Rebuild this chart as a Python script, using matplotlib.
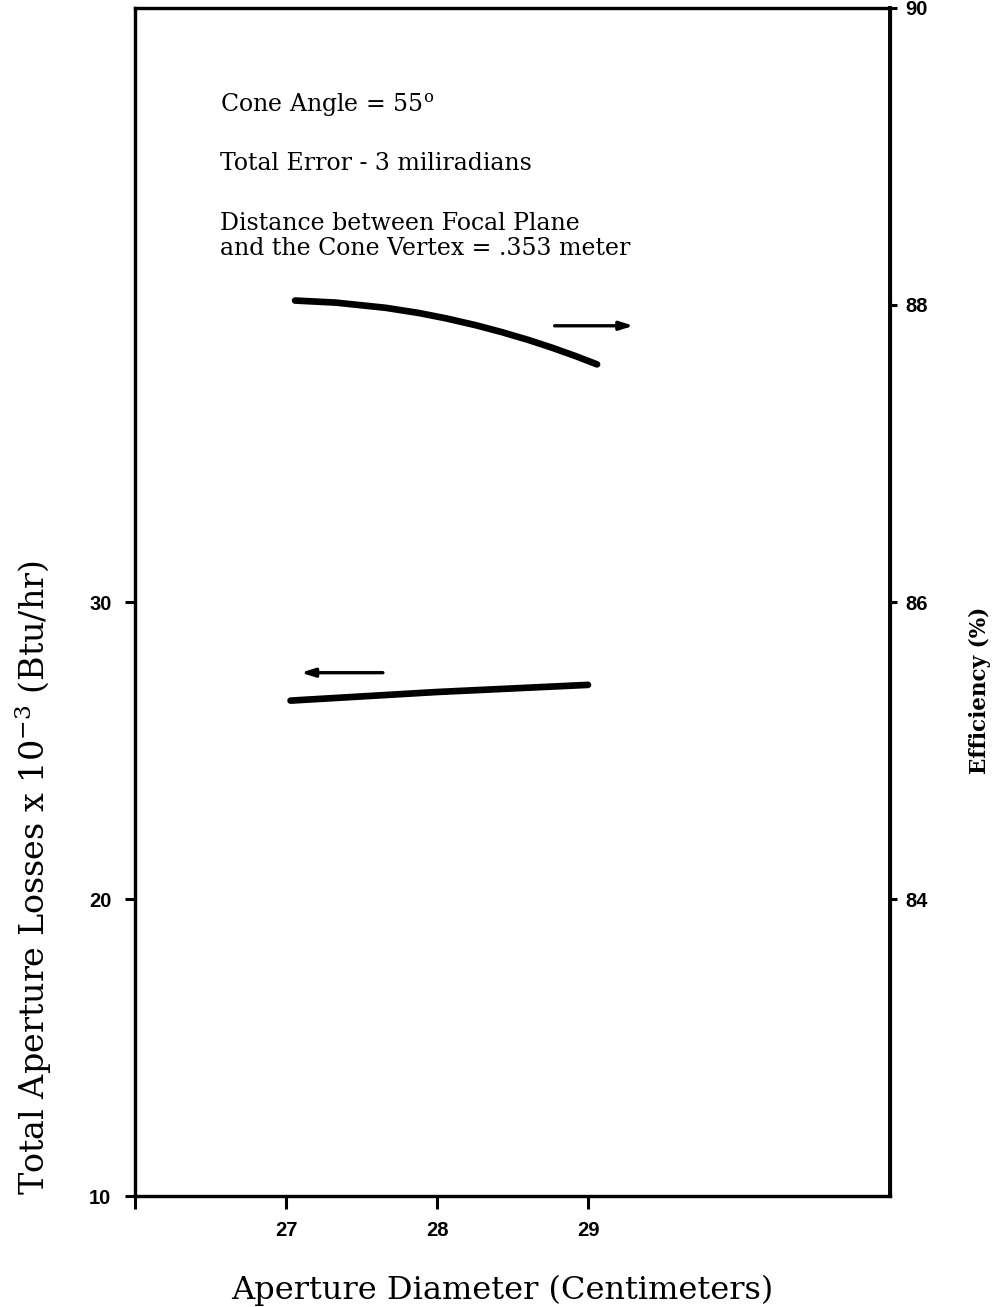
import numpy as np
import matplotlib
matplotlib.use("Agg")
import matplotlib.pyplot as plt

plt.rcParams["mathtext.fontset"] = "dejavuserif"

# aperture diameter (cm) vs efficiency (%)
diam_eff = [27.06, 27.33, 27.66, 27.88, 28.06, 28.26, 28.43, 28.61, 28.76, 28.92, 29.06]
efficiency = [88.03, 88.016, 87.981, 87.946, 87.91, 87.863, 87.817, 87.763, 87.713, 87.655, 87.60]

# aperture diameter (cm) vs total aperture losses (Btu/hr x 10^-3)
diam_loss = [27.03, 28.0, 29.0]
losses = [26.68, 26.97, 27.21]

x_ticks = [26, 27, 28, 29]
x_ticklabels = ["", "27", "28", "29"]
left_ticks = [10, 20, 30]
right_ticks = [84, 86, 88, 90]

notes = ["Cone Angle = 55$^{\\rm o}$",
         "Total Error - 3 miliradians",
         "Distance between Focal Plane\nand the Cone Vertex = .353 meter"]

fig = plt.figure(figsize=(9.98, 13.07), dpi=100)
ax = fig.add_axes([0.1353, 0.0849, 0.7565, 0.9090])
ax2 = ax.twinx()

ax.plot(diam_loss, losses, color="black", lw=4.8, solid_capstyle="round")
ax2.plot(diam_eff, efficiency, color="black", lw=4.8, solid_capstyle="round",
         solid_joinstyle="round")

ax.set_xlim(26, 31)
ax.set_ylim(10, 50)
ax2.set_ylim(82, 90)

tick_font = dict(fontfamily="Liberation Sans", fontweight="bold", fontsize=14.5)
ax.set_xticks(x_ticks)
ax.set_xticklabels(x_ticklabels, **tick_font)
ax.set_yticks(left_ticks)
ax.set_yticklabels([str(t) for t in left_ticks], **tick_font)
ax2.set_yticks(right_ticks)
ax2.set_yticklabels([str(t) for t in right_ticks], **tick_font)

ax.tick_params(axis="x", direction="out", length=9, width=2.2, pad=9)
ax.tick_params(axis="y", direction="out", length=7, width=2.2, pad=10)
ax2.tick_params(axis="y", direction="out", length=5, width=2.2, pad=6)

for a in (ax, ax2):
    for s in a.spines.values():
        s.set_linewidth(2.3)
ax2.spines["right"].set_linewidth(2.8)

# arrows telling which curve goes with which axis
head = "-|>,head_length=0.8,head_width=0.25"
ax2.annotate("", xy=(29.32, 87.86), xytext=(28.76, 87.86),
             arrowprops=dict(arrowstyle=head, color="black", lw=2.4))
ax.annotate("", xy=(27.08, 27.62), xytext=(27.66, 27.62),
            arrowprops=dict(arrowstyle=head, color="black", lw=2.4))

serif = "DejaVu Serif"
ys = [0.918, 0.8695, 0.808]
for txt, y in zip(notes, ys):
    ax.text(0.1126, y, txt, transform=ax.transAxes, fontsize=17,
            fontfamily=serif, va="center", ha="left", linespacing=1.15)

ax.set_xlabel("Aperture Diameter (Centimeters)", fontfamily=serif, fontsize=23)
ax.xaxis.set_label_coords(0.486, -0.066)
ax.set_ylabel("Total Aperture Losses x 10$^{-3}$ (Btu/hr)",
              fontfamily=serif, fontsize=24)
ax.yaxis.set_label_coords(-0.107, 0.268)
ax2.set_ylabel("Efficiency (%)", fontfamily=serif,
               fontweight="bold", fontsize=15.5)
ax2.yaxis.set_label_coords(1.105, 0.426)

fig.savefig("out.png", dpi=100)
